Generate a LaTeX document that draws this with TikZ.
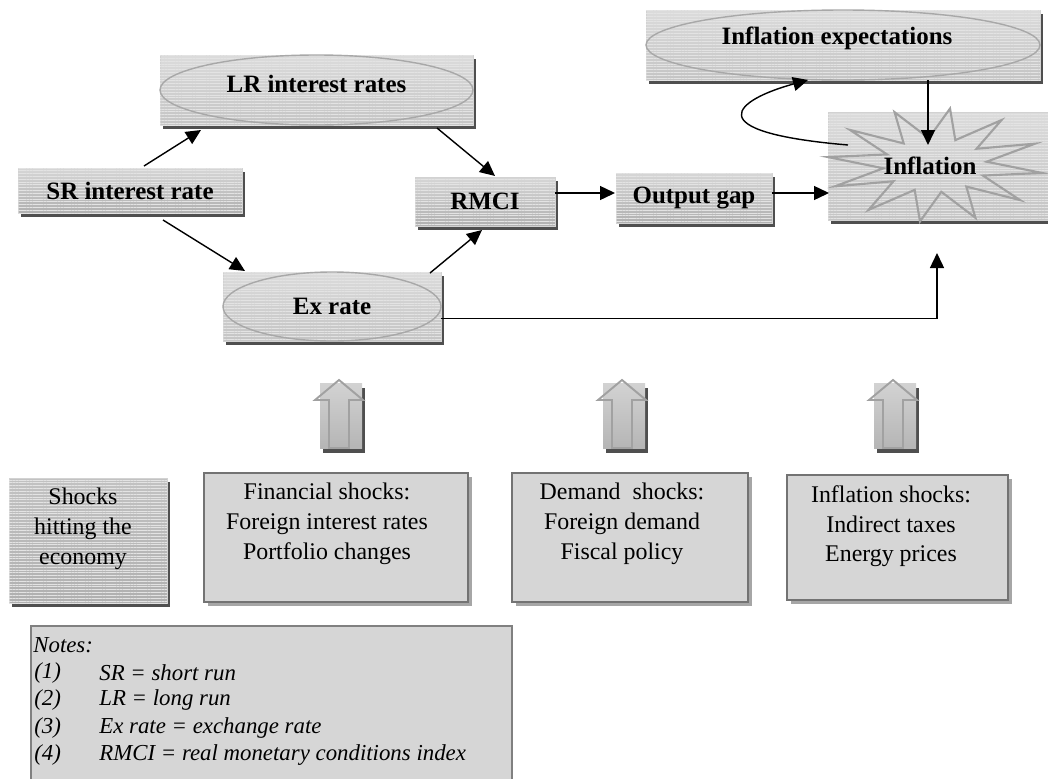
\documentclass[tikz,border=0pt]{standalone}
\usepackage{fontspec}
\setmainfont{Liberation Serif}
\usetikzlibrary{positioning,calc,arrows.meta,shadows,shapes.geometric,patterns.meta}

\def\pxu{0.02cm}
\newcommand\boxfont{\fontsize{14.2}{17}\selectfont\bfseries}
\newcommand\shockfont{\fontsize{13.6}{17}\selectfont}
\newcommand\notefont{\fontsize{13}{15.6}\selectfont\itshape}

\tikzset{
  boxsize/.style 2 args={minimum width=#1*\pxu, minimum height=#2*\pxu},
  stripes/.style={postaction={pattern={Lines[angle=0,distance=1.6pt,line width=0.4pt]}, pattern color=gray!22}},
  darkshadow/.style={general shadow={fill=black!69, shadow xshift=0.06cm, shadow yshift=-0.08cm}},
  barbox/.style={rectangle, inner sep=0pt, outer sep=0pt, draw=gray!35, line width=0.5pt,
    top color=gray!32, bottom color=gray!62, darkshadow, stripes},
  ovalbox/.style={barbox, top color=gray!28, bottom color=gray!46},
  hitbox/.style={barbox, top color=gray!48, bottom color=gray!62},
  oval/.style={ellipse, draw=gray!68, line width=0.8pt, inner sep=0pt, outer sep=0pt},
  starline/.style={draw=gray!74, line width=1.2pt, line join=miter},
  conn/.style={-{Triangle[length=0.3cm,width=0.28cm]}, line width=0.8pt},
  shockbox/.style={rectangle, inner sep=0pt, outer sep=0pt, fill=gray!32, draw=black!55, line width=0.9pt,
    general shadow={fill=gray!70, shadow xshift=0.07cm, shadow yshift=-0.07cm}},
  shocktext/.style={align=center, inner sep=0pt, font=\shockfont},
  blockline/.style={draw=gray!74, line width=1.1pt},
  notebox/.style={rectangle, inner sep=0pt, fill=gray!32, draw=black!50, line width=0.8pt},
  notetext/.style={inner sep=0pt, anchor=west, font=\notefont},
}

\begin{document}
\begin{tikzpicture}[x=0.02cm, y=-0.02cm]
\useasboundingbox (0,0) rectangle (1048,778);

% transmission chain
\node[ovalbox, boxsize={313}{70}] (lr) at (316.5,90) {};
\node[oval, boxsize={313}{70}] (lrin) at (lr) {};
\node[font=\boxfont] (lrtext) at ($(lr.center)+(0,-6)$) {LR interest rates};
\node[barbox, boxsize={224}{45}, font=\boxfont] (sr) at (130,190.5) {SR interest rate};
\node[ovalbox, boxsize={218}{69}] (ex) at (332,306.5) {};
\node[oval, boxsize={218}{69}, font=\boxfont] (exin) at (ex) {Ex rate};
\node[barbox, boxsize={140}{49}, font=\boxfont] (rmci) at (485,201.5) {RMCI};
\node[barbox, boxsize={156}{50}, font=\boxfont] (og) at (694,198) {Output gap};
\node[ovalbox, boxsize={394}{70}] (exp) at (843,45) {};
\node[oval, boxsize={394}{70}] (expin) at (exp) {};
\node[font=\boxfont] (exptext) at ($(exp.center)+(-6,-7)$) {Inflation expectations};
\node[ovalbox, boxsize={220}{108}] (infl) at (938,166) {};
\draw[starline] plot[variable=\a, samples at={0,15,...,345}]
  ({935+(mod(\a,30)==0 ? 108 : 52)*cos(\a+8)}, {165+(mod(\a,30)==0 ? 57 : 27)*sin(\a+8)}) -- cycle;
\node[font=\boxfont] (infltext) at (930,166) {Inflation};

\draw[conn] ($(sr.north)+(14,-2)$) -- ($(lr.south)+(-115.5,5)$);
\draw[conn] ($(sr.south)+(33,7)$) -- ($(ex.north)+(-87,-1)$);
\draw[conn] ($(lr.south)+(120.5,3)$) -- ($(rmci.north)+(10,-1)$);
\draw[conn] ($(ex.north)+(98,1)$) -- ($(rmci.south)+(-3,4)$);
\draw[conn] ($(rmci.east)+(0,-8.5)$) -- ($(og.west)+(-1,-5)$);
\draw[conn] ($(og.east)+(0,-5)$) -- ($(infl.west)+(1,27)$);
\draw[conn] ($(exp.south)+(85,0)$) -- ($(infl.north)+(-10,33)$);
\draw[conn] ($(infl.north)+(-90,33)$) .. controls (695,132) and (735,100) .. ($(exp.south)+(-35,0)$);
\draw[conn] ($(ex.east)+(0,12)$) -| ($(infl.south)+(-1,33)$);

% shock arrows
\foreach \cx in {339,622,893} {
  \fill[black!69] (\cx-16,388) rectangle (\cx+26,453);
  \shade[top color=gray!35, bottom color=gray!58] (\cx-19,383) rectangle (\cx+23,448);
  \draw[blockline] (\cx-10,448) -- (\cx-10,400) -- (\cx-24,400) -- (\cx,380)
    -- (\cx+24,400) -- (\cx+10,400) -- (\cx+10,448) -- cycle;
}

% shocks
\node[hitbox, boxsize={158}{125}] (hit) at (88,540.5) {};
\node[shocktext, below=0.2cm of hit.north, xshift=-0.1cm] (hittext) {Shocks\\hitting the\\economy};
\node[shockbox, boxsize={264}{129}] (fin) at (336,537.5) {};
\node[shocktext, below=0.2cm of fin.north, xshift=-0.18cm] (fintext) {Financial shocks:\\Foreign interest rates\\Portfolio changes};
\node[shockbox, boxsize={236}{129}] (dem) at (630,537.5) {};
\node[shocktext, below=0.2cm of dem.north, xshift=-0.16cm] (demtext) {Demand\ \ shocks:\\Foreign demand\\Fiscal policy};
\node[shockbox, boxsize={221}{125}] (ish) at (897.5,537.5) {};
\node[shocktext, below=0.2cm of ish.north, xshift=-0.13cm] (ishtext) {Inflation shocks:\\Indirect taxes\\Energy prices};

% notes
\node[notebox, boxsize={481}{160}] (notes) at (271.5,706) {};
\node[notetext] (notehead) at (33,645) {Notes:};
\foreach \n/\txt [count=\i] in {1/SR = short run, 2/LR = long run,
    3/Ex rate = exchange rate, 4/RMCI = real monetary conditions index} {
  \node[notetext] (num\n) at (34,645+27.5*\i) {(\n)};
  \node[notetext] (def\n) at (99,645+27.5*\i) {\txt};
}
\end{tikzpicture}
\end{document}
